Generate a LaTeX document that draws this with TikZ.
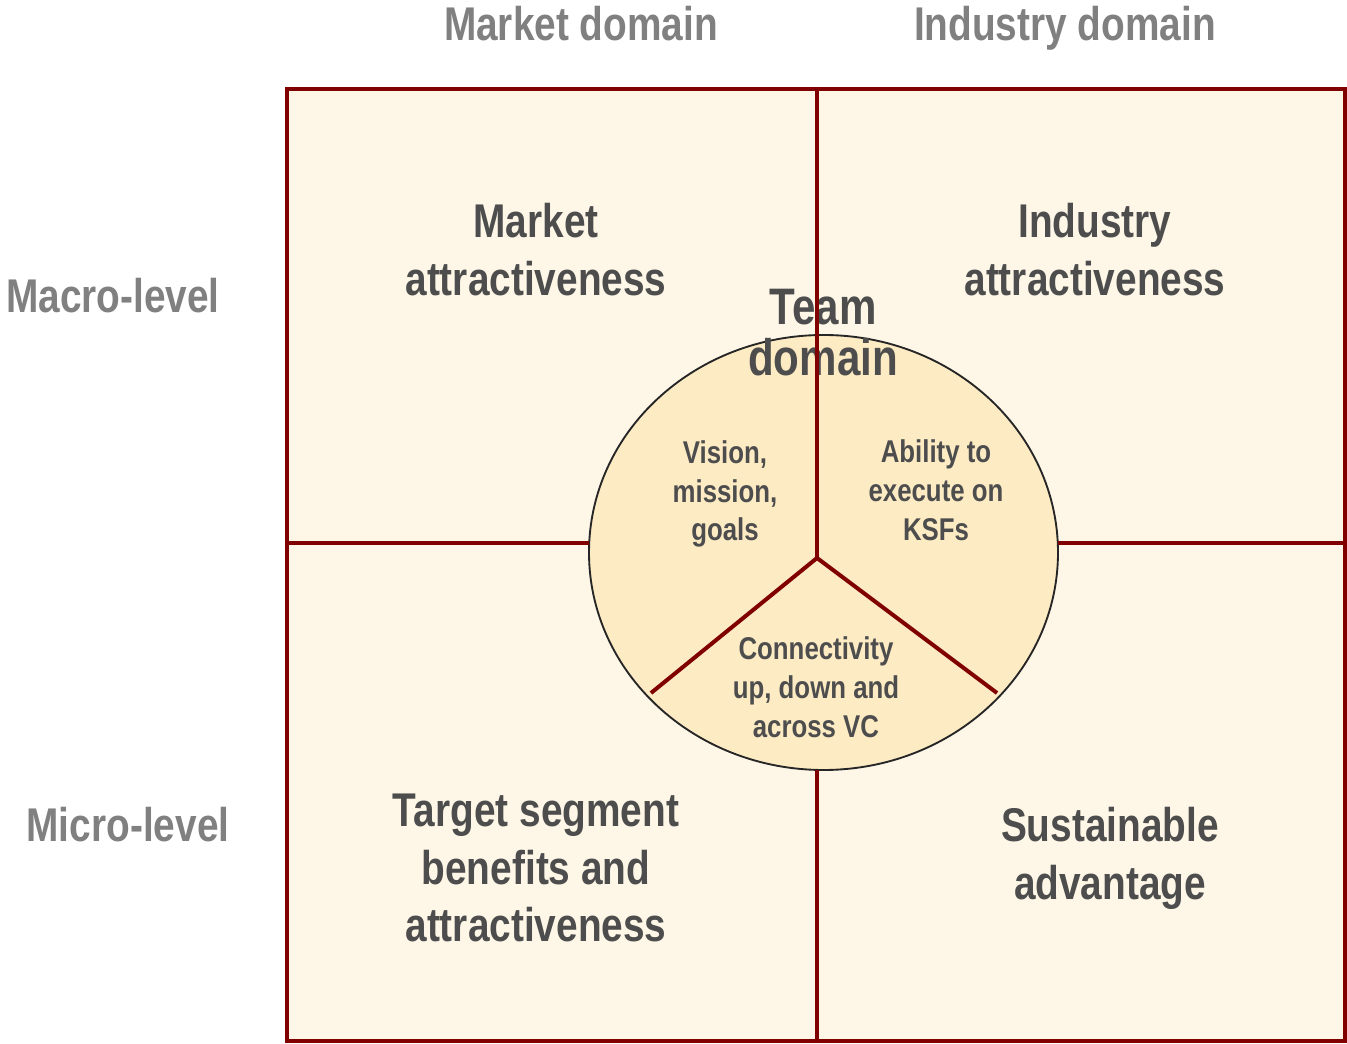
\documentclass[tikz,border=0pt]{standalone}
\usepackage{fontspec}
\setmainfont{Liberation Sans}[FakeStretch=0.82]
\usetikzlibrary{shapes.geometric}

\definecolor{frame}{HTML}{800000}
\definecolor{paper}{HTML}{FEF7E7}
\definecolor{disc}{HTML}{FDEBC4}
\definecolor{ink}{HTML}{4D4D4D}
\definecolor{axis}{HTML}{808080}

\tikzset{
  divider/.style={draw=frame, line width=3pt},
  axislabel/.style={text=axis, font=\fontsize{35.5}{40}\selectfont\bfseries, anchor=base, inner sep=0pt},
  bigtext/.style={text=ink, align=center, inner sep=0pt, font=\fontsize{35.5}{43.25}\selectfont\bfseries},
  smalltext/.style={text=ink, align=center, inner sep=0pt, font=\fontsize{23.6}{29.1}\selectfont\bfseries},
}

\begin{document}
\begin{tikzpicture}[x=0.75pt, y=-0.75pt]
  \useasboundingbox (0,0) rectangle (1347,1044);

  % quadrant frame corners and midlines
  \coordinate (nw) at (287,89);
  \coordinate (se) at (1345,1041);
  \coordinate (ntop) at (817,89);
  \coordinate (nbot) at (817,1041);
  \coordinate (wmid) at (287,543);
  \coordinate (emid) at (1345,543);

  % background
  \fill[paper] (nw) rectangle (se);

  % central team disc
  \node[ellipse, draw=black!85, line width=1.4pt, fill=disc,
        minimum width=351.75pt, minimum height=326.25pt, inner sep=0pt]
        (team) at (823.5,552.5) {};

  % disc title sits under the vertical divider
  \node[bigtext, font=\fontsize{38.5}{38.25}\selectfont\bfseries] (tdom) at (823,333) {Team\\domain};

  % split points inside the disc
  \coordinate (hub) at (817,558);
  \coordinate (leftcut) at (651,693);
  \coordinate (rightcut) at (997,693);
  \coordinate (discbot) at (817,770);
  \coordinate (discwest) at (589.2,543);
  \coordinate (disceast) at (1057.8,543);

  % dividers
  \draw[divider] (ntop) -- (hub);
  \draw[divider] (hub) -- (leftcut);
  \draw[divider] (hub) -- (rightcut);
  \draw[divider] (discbot) -- (nbot);
  \draw[divider] (wmid) -- (discwest);
  \draw[divider] (disceast) -- (emid);
  \draw[divider] (nw) rectangle (se);

  % axis labels
  \node[axislabel] (mdom) at (581,41) {Market domain};
  \node[axislabel] (idom) at (1065,41) {Industry domain};
  \node[axislabel] (macro) at (113,313) {Macro-level};
  \node[axislabel] (micro) at (128,841) {Micro-level};

  % quadrant texts
  \node[bigtext] (mattr) at (536,249.5) {Market\\attractiveness};
  \node[bigtext] (iattr) at (1095,249.5) {Industry\\attractiveness};
  \node[bigtext] (tseg) at (536,868) {Target segment\\benefits and\\attractiveness};
  \node[bigtext] (sadv) at (1110,858.5) {Sustainable\\advantage};

  % disc sector texts
  \node[smalltext] (vision) at (725,494) {Vision,\\mission,\\goals};
  \node[smalltext] (ability) at (936,490.5) {Ability to\\execute on\\KSFs};
  \node[smalltext] (connect) at (816,687.5) {Connectivity\\up, down and\\across VC};
\end{tikzpicture}
\end{document}
